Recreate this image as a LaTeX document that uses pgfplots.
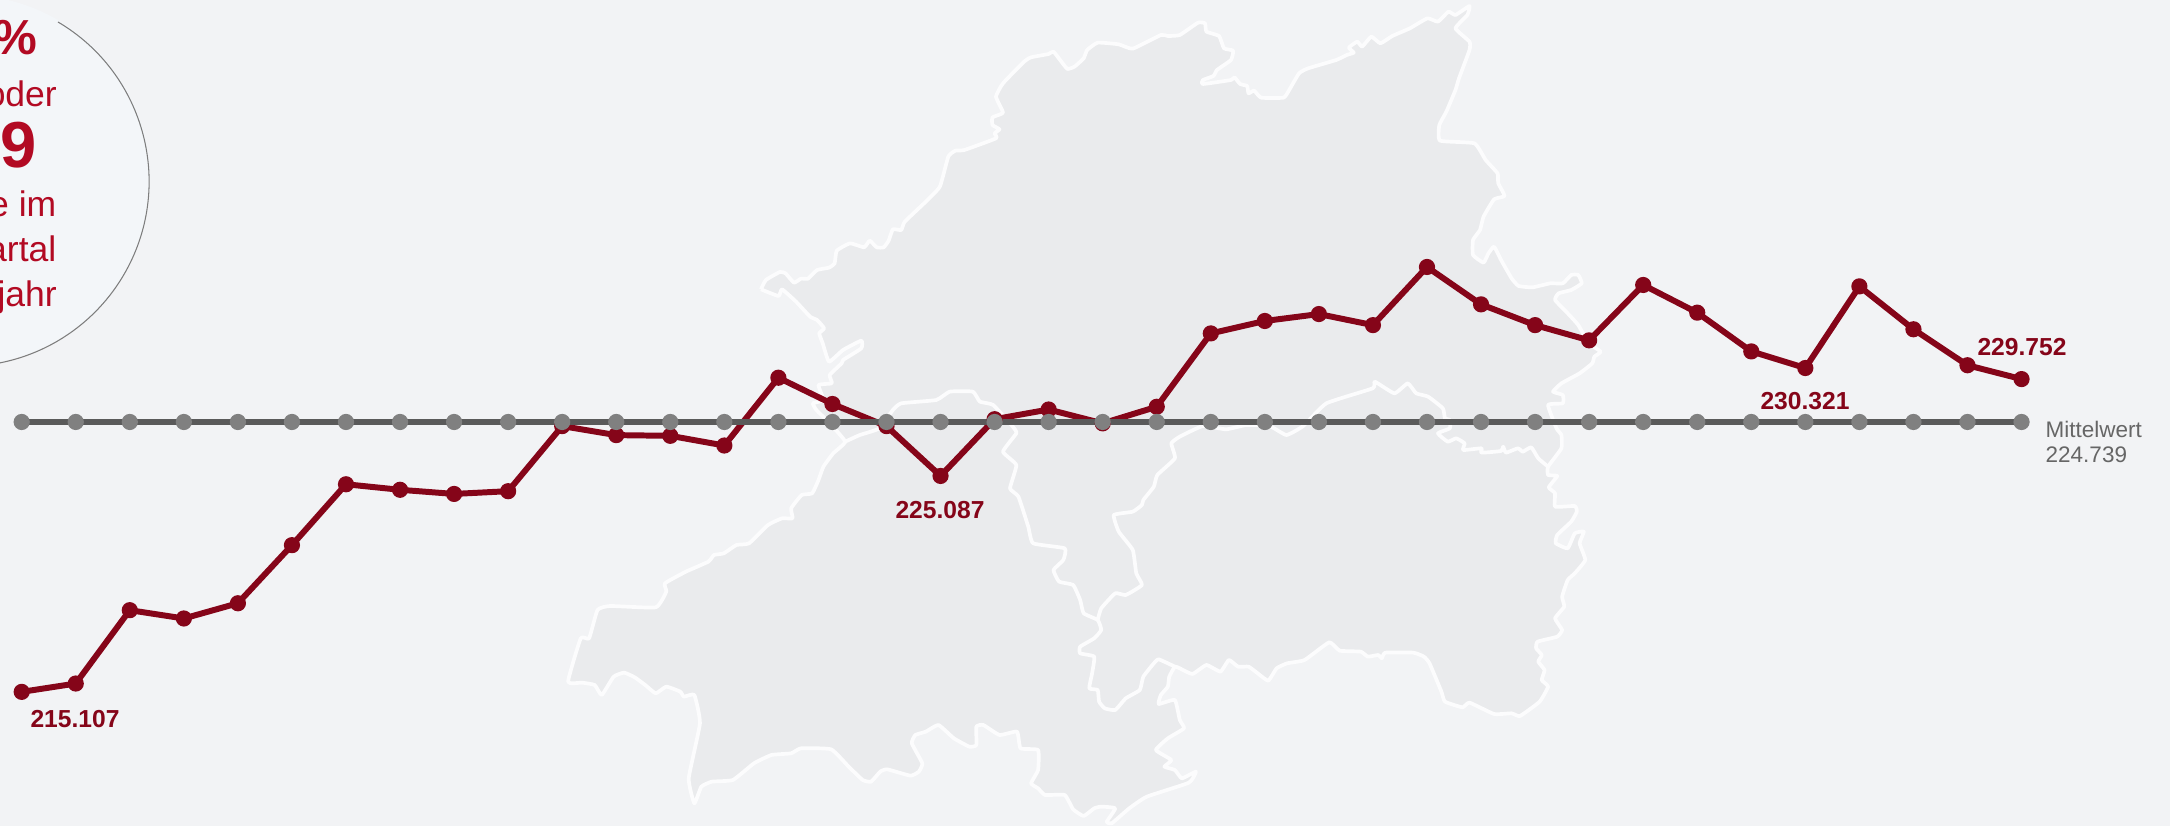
\documentclass[border=0pt]{standalone}
\usepackage{fontspec}
\setmainfont{Liberation Sans}
\usepackage{pgfplots}
\pgfplotsset{compat=1.18}
\definecolor{bgcol}{RGB}{242,243,245}
\definecolor{circfill}{RGB}{243,246,249}
\definecolor{circline}{RGB}{125,125,125}
\definecolor{mapfill}{RGB}{234,235,237}
\definecolor{mapline}{RGB}{252,252,253}
\definecolor{serred}{RGB}{133,5,25}
\definecolor{txtred}{RGB}{178,10,35}
\definecolor{meanline}{RGB}{90,90,90}
\definecolor{meandot}{RGB}{128,128,128}
\definecolor{meantxt}{RGB}{102,102,102}
% 1 px of the reference = 0.01cm
\pgfplotsset{
  full/.style={width=21.7cm,height=8.26cm,scale only axis,axis lines=none,clip=true},
  mapc/.style={x filter/.expression={540+x/1.4255},y filter/.expression={y/3}},
  maparea/.style={mapc,smooth,tension=0.25,fill=mapfill,draw=mapline,line width=1.05pt,line join=round},
  mapbord/.style={mapc,smooth,tension=0.25,draw=mapline,line width=1.05pt,line join=round},
}
\tikzset{
  lab/.style={font=\fontsize{7}{8}\selectfont\bfseries,text=serred,anchor=base,inner sep=0pt},
  big/.style={text=txtred,anchor=base east,inner sep=0pt},
}
\begin{document}
\begin{tikzpicture}
\clip[use as bounding box] (0,0) rectangle (21.7,8.26);
\fill[bgcol] (0,0) rectangle (21.7,8.26);
% map and text, in reference pixels
\begin{axis}[full,xmin=0,xmax=2170,ymin=0,ymax=826,y dir=reverse]
\addplot[maparea] coordinates {
(315,868)(322,840)(342,816)(350,820)(362,848)(372,836)(382,836)(395,810)(412,803)(420,790)(423,752)(442,730)(462,742)(470,722)(480,742)(490,742)(497,722)(503,688)(515,690)(520,665)(550,605)(570,560)(582,470)(592,452)(605,450)(650,415)(648,400)(655,388)(645,375)(645,352)(660,338)(650,290)(660,250)(690,185)(700,172)(725,162)(732,155)(745,190)(752,207)(762,200)(775,175)(780,150)(795,128)(825,133)(845,146)(885,105)(895,108)(912,105)(938,68)(948,70)(950,95)(968,108)(975,145)(988,152)(985,180)(965,210)(960,228)(945,240)(945,252)(985,240)(990,232)(998,252)(1008,258)(1010,280)(1018,272)(1028,293)(1060,293)(1068,270)(1082,220)(1095,205)(1135,180)(1150,165)(1160,158)(1153,143)(1165,125)(1172,140)(1185,110)(1198,130)(1215,108)(1240,85)(1265,55)(1280,65)(1295,35)(1305,45)(1325,18)(1322,45)(1305,85)(1325,125)(1325,150)(1310,235)(1305,270)(1292,335)(1282,375)(1283,422)(1332,430)(1348,480)(1365,520)(1366,550)(1375,588)(1360,598)(1345,650)(1340,690)(1330,720)(1330,765)(1345,788)(1352,760)(1360,740)(1370,780)(1385,835)(1395,858)(1415,862)(1440,850)(1458,850)(1470,825)(1480,825)(1485,850)(1470,870)(1452,880)(1447,900)(1465,940)(1480,975)(1495,1030)(1512,1055)(1503,1070)(1500,1090)(1482,1120)(1456,1150)(1444,1175)(1458,1185)(1458,1210)(1437,1215)(1449,1285)(1456,1305)(1456,1345)(1437,1400)(1437,1425)(1450,1428)(1438,1462)(1447,1480)(1447,1520)(1475,1518)(1478,1535)(1470,1565)(1450,1605)(1448,1630)(1465,1645)(1475,1600)(1488,1595)(1482,1630)(1490,1680)(1475,1720)(1465,1740)(1457,1790)(1460,1820)(1447,1855)(1457,1890)(1450,1910)(1422,1925)(1420,1945)(1428,1965)(1423,1985)(1432,2010)(1428,2040)(1437,2060)(1425,2105)(1397,2148)(1385,2140)(1360,2142)(1325,2108)(1315,2122)(1290,2105)(1285,2075)(1268,1990)(1260,1970)(1245,1958)(1205,1958)(1200,1975)(1195,1965)(1180,1970)(1170,1955)(1140,1952)(1125,1927)(1090,1980)(1065,1990)(1050,2005)(1038,2042)(1020,2015)(1010,2000)(995,2000)(982,1980)(970,2015)(950,1995)(930,2022)(912,2005)(905,2000)(897,2030)(895,2060)(885,2085)(882,2112)(905,2100)(912,2160)(918,2185)(895,2215)(878,2250)(900,2280)(890,2300)(905,2310)(915,2335)(935,2315)(925,2348)(865,2390)(840,2425)(815,2470)(808,2465)(820,2425)(800,2420)(790,2425)(775,2448)(760,2428)(748,2385)(720,2385)(710,2365)(700,2350)(710,2310)(710,2250)(685,2245)(680,2195)(655,2205)(632,2175)(622,2180)(622,2235)(612,2240)(590,2215)(568,2175)(550,2195)(535,2205)(530,2230)(545,2290)(540,2315)(528,2327)(495,2308)(485,2315)(472,2345)(460,2340)(440,2300)(415,2248)(372,2245)(358,2260)(330,2265)(305,2290)(275,2340)(245,2345)(230,2360)(220,2410)(212,2335)(228,2170)(220,2085)(205,2090)(200,2075)(180,2060)(165,2080)(150,2055)(135,2032)(120,2018)(105,2030)(88,2085)(78,2055)(60,2048)(40,2045)(58,1915)(70,1915)(82,1830)(100,1818)(165,1822)(180,1775)(178,1750)(208,1715)(240,1685)(248,1665)(262,1660)(280,1635)(298,1630)(325,1575)(345,1555)(360,1555)(358,1525)(373,1485)(388,1480)(397,1440)(404,1400)(418,1360)(435,1325)(413,1270)(394,1230)(389,1210)(404,1200)(397,1155)(416,1150)(413,1125)(430,1090)(432,1080)(458,1045)(458,1022)(432,1050)(412,1085)(403,1030)(398,1000)(405,985)(395,960)(385,950)(365,905)(345,868)(340,888)(315,868)
};
\addplot[mapbord] coordinates {
(435,1325)(456,1305)(484,1285)(503,1230)(515,1210)(565,1200)(584,1175)(617,1175)(627,1205)(646,1215)(674,1280)(679,1300)(660,1355)(679,1395)(670,1465)(682,1490)(696,1580)(703,1630)(748,1645)(746,1680)(732,1710)(740,1745)(760,1755)(770,1800)(775,1840)(795,1860)(800,1890)(790,1915)(770,1940)(770,1960)(790,1970)(787,2020)(783,2065)(795,2070)(797,2105)(805,2125)(820,2130)(835,2095)(855,2070)(860,2030)(875,1990)(882,1978)(905,2000)
};
\addplot[mapbord] coordinates {
(795,1860)(800,1825)(820,1780)(835,1785)(858,1755)(850,1720)(845,1650)(825,1595)(818,1545)(845,1535)(858,1515)(860,1500)(875,1460)(880,1425)(905,1375)(900,1330)(912,1310)(945,1278)(978,1288)(1007,1275)(1040,1278)(1064,1305)(1088,1278)(1121,1210)(1187,1165)(1190,1145)(1218,1180)(1237,1150)(1249,1180)(1266,1190)(1287,1225)(1290,1255)(1297,1260)(1297,1285)(1280,1300)(1294,1325)(1306,1315)(1318,1330)(1316,1350)(1342,1345)(1342,1358)(1370,1353)(1373,1340)(1377,1358)(1394,1345)(1401,1355)(1413,1342)(1423,1375)(1437,1400)
};
% circle with the text that is cut off at the edge
\fill[circfill] (axis cs:-35,180) circle[radius=1.85cm];
\draw[circline,line width=0.3pt] (axis cs:58,22) arc[start angle=59.5,end angle=-93,radius=1.85cm];
\node[big,font=\fontsize{14}{16}\selectfont\bfseries] at (axis cs:38,55) {\%};
\node[big,font=\fontsize{10.1}{12}\selectfont] at (axis cs:57.5,107) {oder};
\node[big,font=\fontsize{18.5}{20}\selectfont\bfseries] at (axis cs:37,168) {9};
\node[big,font=\fontsize{10.1}{12}\selectfont] at (axis cs:57,217) {e im};
\node[big,font=\fontsize{10.1}{12}\selectfont] at (axis cs:57,262) {Quartal};
\node[big,font=\fontsize{10.1}{12}\selectfont] at (axis cs:57.5,307) {Vorjahr};
% value labels
\node[lab] at (axis cs:75,727) {215.107};
\node[lab] at (axis cs:940,519) {225.087};
\node[lab] at (axis cs:1805,410) {230.321};
\node[lab] at (axis cs:2022,356) {229.752};
\node[anchor=base west,inner sep=0pt,text=meantxt,font=\fontsize{6.4}{8}\selectfont] at (axis cs:2045,438) {Mittelwert};
\node[anchor=base west,inner sep=0pt,text=meantxt,font=\fontsize{6.4}{8}\selectfont] at (axis cs:2045,463) {224.739};
\end{axis}
% the two series
\begin{axis}[full,xmin=-0.4015,xmax=39.747,ymin=210.32,ymax=239.80]
\addplot[serred,line width=1.7pt,line join=round,mark=*,mark size=1.95pt,mark options={draw=serred,fill=serred,line width=0.7pt}] coordinates {
(0,215.107)(1,215.404)(2,218.022)(3,217.726)(4,218.269)(5,220.343)(6,222.516)(7,222.319)(8,222.171)(9,222.269)
(10,224.591)(11,224.270)(12,224.245)(13,223.899)(14,226.319)(15,225.381)(16,224.591)(17,222.813)(18,224.838)(19,225.184)
(20,224.690)(21,225.282)(22,227.900)(23,228.344)(24,228.591)(25,228.196)(26,230.271)(27,228.937)(28,228.196)(29,227.653)
(30,229.629)(31,228.641)(32,227.258)(33,226.665)(34,229.579)(35,228.048)(36,226.764)(37,226.270)
};
\addplot[meanline,line width=1.9pt,mark=*,mark size=1.95pt,mark options={draw=meandot,fill=meandot,line width=0.7pt}] coordinates {
(0,224.739)(1,224.739)(2,224.739)(3,224.739)(4,224.739)(5,224.739)(6,224.739)(7,224.739)(8,224.739)(9,224.739)
(10,224.739)(11,224.739)(12,224.739)(13,224.739)(14,224.739)(15,224.739)(16,224.739)(17,224.739)(18,224.739)(19,224.739)
(20,224.739)(21,224.739)(22,224.739)(23,224.739)(24,224.739)(25,224.739)(26,224.739)(27,224.739)(28,224.739)(29,224.739)
(30,224.739)(31,224.739)(32,224.739)(33,224.739)(34,224.739)(35,224.739)(36,224.739)(37,224.739)
};
\end{axis}
\end{tikzpicture}
\end{document}
